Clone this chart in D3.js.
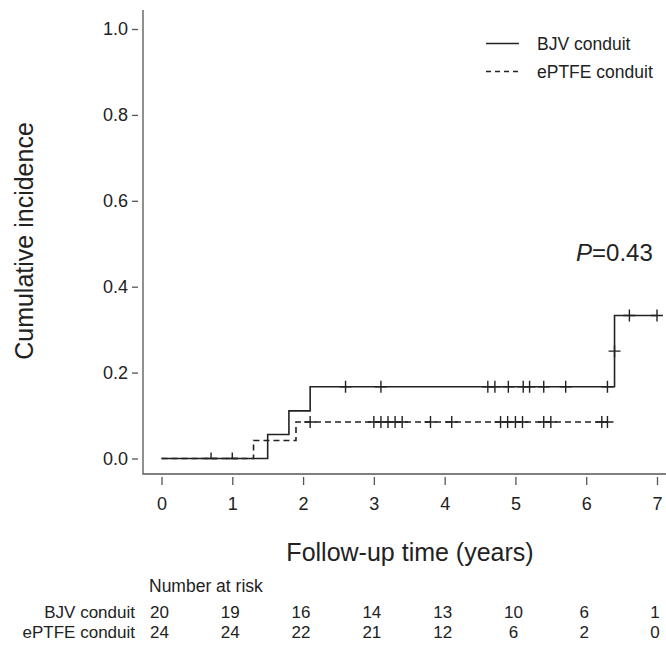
<!DOCTYPE html>
<html>
<head>
<meta charset="utf-8">
<script src="https://cdn.jsdelivr.net/npm/d3@7"></script>
<style>
  body { margin: 0; background: #fff; }
  svg text { font-family: "Liberation Sans", Arial, sans-serif; fill: #222; }
</style>
</head>
<body>
<div id="chart"></div>
<script>
// Step curves (time in years, cumulative incidence)
const bjvTimes = [0, 1.5, 1.8, 2.1, 6.4, 6.4, 7.0];
const bjvValues = [0, 0.056, 0.111, 0.167, 0.25, 0.333, 0.333];
const eptfeTimes = [0, 1.3, 1.9, 6.3];
const eptfeValues = [0, 0.042, 0.085, 0.085];

// Censoring marks
const bjvCensorTimes = [0.7, 1.0, 2.6, 3.1, 4.61, 4.71, 4.9, 5.11, 5.2, 5.4, 5.71, 6.3, 6.4, 6.61, 7.0];
const bjvCensorValues = [0, 0, 0.167, 0.167, 0.167, 0.167, 0.167, 0.167, 0.167, 0.167, 0.167, 0.167, 0.25, 0.333, 0.333];
const eptfeCensorTimes = [2.1, 3.0, 3.1, 3.2, 3.3, 3.4, 3.8, 4.1, 4.79, 4.89, 5.0, 5.1, 5.4, 5.5, 6.22, 6.3];

// Number at risk
const riskTimes = [0, 1, 2, 3, 4, 5, 6, 7];
const bjvRisk = [20, 19, 16, 14, 13, 10, 6, 1];
const eptfeRisk = [24, 24, 22, 21, 12, 6, 2, 0];

const xTicks = [0, 1, 2, 3, 4, 5, 6, 7];
const yTicks = [0, 0.2, 0.4, 0.6, 0.8, 1.0];

const Width = 666, Height = 650;
const Ink = "#222";
const AxisInk = "#555";

let Canvas = d3.select("#chart").append("svg")
    .attr("width", Width).attr("height", Height);

let ScaleX = d3.scaleLinear().domain([0, 7]).range([161.5, 657]);
let ScaleY = d3.scaleLinear().domain([0, 1]).range([458.5, 29]);

// L-shaped frame
const FrameLeft = 143, FrameBottom = 474;
Canvas.append("path")
    .attr("d", `M${FrameLeft},10V${FrameBottom}H${Width}`)
    .attr("fill", "none").attr("stroke", AxisInk).attr("stroke-width", 1.3);

// Axes (ticks set off from the frame)
let AxisX = d3.axisBottom(ScaleX).tickValues(xTicks).tickFormat(d3.format("d"))
    .tickSize(8).tickPadding(12);
let gx = Canvas.append("g").attr("transform", `translate(0, ${FrameBottom + 3})`).call(AxisX);
let AxisY = d3.axisLeft(ScaleY).tickValues(yTicks).tickFormat(d3.format(".1f"))
    .tickSize(6).tickPadding(4);
let gy = Canvas.append("g").attr("transform", `translate(${FrameLeft - 5}, 0)`).call(AxisY);
[gx, gy].forEach(g => {
    g.select(".domain").remove();
    g.selectAll("line").attr("stroke", AxisInk).attr("stroke-width", 1.3);
    g.selectAll("text").attr("font-size", 18).attr("fill", "#333")
        .attr("font-family", "'Liberation Sans', Arial, sans-serif");
});

// Axis titles
Canvas.append("text").attr("x", 410).attr("y", 561).attr("text-anchor", "middle")
    .attr("font-size", 25).text("Follow-up time (years)");
Canvas.append("text").attr("transform", `translate(33, 241) rotate(-90)`)
    .attr("text-anchor", "middle").attr("font-size", 25).text("Cumulative incidence");

// Curves
let Line = d3.line().x(pp => ScaleX(pp[0])).y(pp => ScaleY(pp[1])).curve(d3.curveStepAfter);
const bjvData = d3.zip(bjvTimes, bjvValues);
const eptfeData = d3.zip(eptfeTimes, eptfeValues);
Canvas.append("path").attr("d", Line(bjvData))
    .attr("fill", "none").attr("stroke", Ink).attr("stroke-width", 1.6);
Canvas.append("path").attr("d", Line(eptfeData))
    .attr("fill", "none").attr("stroke", Ink).attr("stroke-width", 1.6)
    .attr("stroke-dasharray", "6,4");

// Censor "+" marks (marks on the zero line only rise above it)
function drawCensors(times, values)
{
    const s = 6;
    Canvas.append("g").selectAll("path").data(d3.zip(times, values)).join("path")
        .attr("d", pp => {
            const cx = ScaleX(pp[0]), cy = ScaleY(pp[1]);
            const bottom = Math.min(cy + s, ScaleY(0));
            return `M${cx - s},${cy}H${cx + s}M${cx},${cy - s}V${bottom}`;
        })
        .attr("fill", "none").attr("stroke", Ink).attr("stroke-width", 1.4);
}
drawCensors(bjvCensorTimes, bjvCensorValues);
drawCensors(eptfeCensorTimes, eptfeCensorTimes.map(() => eptfeValues[eptfeValues.length - 1]));

// Legend
const legend = [
    {name: "BJV conduit", dash: null, y: 43.5},
    {name: "ePTFE conduit", dash: "5,4", y: 71.5},
];
legend.forEach(lg => {
    Canvas.append("line").attr("x1", 486).attr("x2", 519).attr("y1", lg.y).attr("y2", lg.y)
        .attr("stroke", Ink).attr("stroke-width", 1.6)
        .attr("stroke-dasharray", lg.dash);
    Canvas.append("text").attr("x", 537).attr("y", lg.y + 6).attr("font-size", 17.5).text(lg.name);
});

// P value
let pText = Canvas.append("text").attr("x", 576).attr("y", 261).attr("font-size", 24);
pText.append("tspan").attr("font-style", "italic").text("P");
pText.append("tspan").text("=0.43");

// Number at risk table
Canvas.append("text").attr("x", 149).attr("y", 592).attr("font-size", 17.5).text("Number at risk");
const riskRows = [
    {name: "BJV conduit", values: bjvRisk, y: 618},
    {name: "ePTFE conduit", values: eptfeRisk, y: 638},
];
riskRows.forEach(row => {
    Canvas.append("text").attr("x", 135).attr("y", row.y).attr("text-anchor", "end")
        .attr("font-size", 17).text(row.name);
    Canvas.append("g").selectAll("text").data(d3.zip(riskTimes, row.values)).join("text")
        .attr("x", pp => ScaleX(pp[0]) - 2).attr("y", row.y).attr("text-anchor", "middle")
        .attr("font-size", 17).text(pp => pp[1]);
});
</script>
</body>
</html>
